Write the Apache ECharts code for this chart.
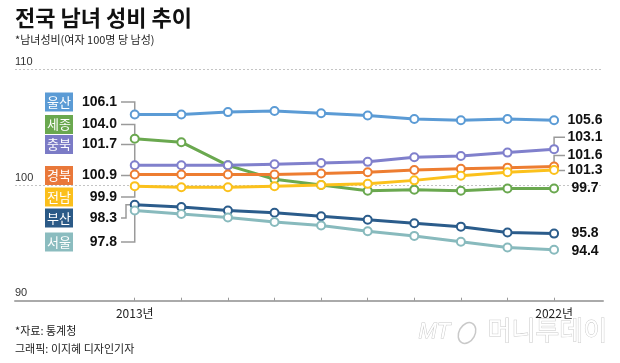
<!DOCTYPE html>
<html><head><meta charset="utf-8">
<script src="https://cdn.jsdelivr.net/npm/echarts@6/dist/echarts.min.js"></script>
<style>html,body{margin:0;padding:0;background:#fff}#c{width:620px;height:363px}</style>
</head><body><div id="c"></div>
<script>
// ---- data ----
const years = [2013, 2014, 2015, 2016, 2017, 2018, 2019, 2020, 2021, 2022];
const regions = ['울산', '세종', '충북', '경북', '전남', '부산', '서울'];
const ulsan    = [106.1, 106.1, 106.3, 106.4, 106.2, 106.0, 105.7, 105.6, 105.7, 105.6];
const sejong   = [104.0, 103.7, 101.7, 100.5, 100.0, 99.5, 99.6, 99.5, 99.7, 99.7];
const chungbuk = [101.7, 101.7, 101.7, 101.8, 101.9, 102.0, 102.4, 102.5, 102.8, 103.1];
const gyeongbuk= [100.9, 100.9, 100.9, 100.9, 101.0, 101.1, 101.3, 101.4, 101.5, 101.6];
const jeonnam  = [99.9, 99.8, 99.8, 99.9, 100.0, 100.1, 100.4, 100.8, 101.1, 101.3];
const busan    = [98.3, 98.1, 97.8, 97.6, 97.3, 97.0, 96.7, 96.4, 95.9, 95.8];
const seoul    = [97.8, 97.5, 97.2, 96.8, 96.5, 96.0, 95.6, 95.1, 94.6, 94.4];
const yTicks = [90, 100, 110];
const xLabelYears = [2013, 2022];
const title = '전국 남녀 성비 추이';
const subtitle = '*남녀성비(여자 100명 당 남성)';
const source = '*자료: 통계청';
const credit = '그래픽: 이지혜 디자인기자';

// ---- styles ----
const seriesValues = [ulsan, sejong, chungbuk, gyeongbuk, jeonnam, busan, seoul];
const colors = ['#5b9bd5', '#6aa84f', '#8080cc', '#ed7d31', '#fbc11c', '#2b5c8b', '#88babd'];
const boxColors = ['#5b9bd5', '#6aa84f', '#7b7bc6', '#e9783a', '#fbbf1c', '#2b5a87', '#8bbcbf'];
const leftLabelY = [102, 124.5, 144.5, 175.5, 197, 218, 242];
const rightLabelDY = [0, 0, -12, -11, 0.5, 0, 1.5]; // offset of right label from last point
const rightLeader = [false, false, true, true, true, false, false];

const chart = echarts.init(document.getElementById('c'), null, {renderer: 'canvas'});
const KR = '"Noto Sans CJK KR", "Noto Sans", sans-serif';
const NUM = '"Liberation Sans", Arial, sans-serif';

chart.setOption({
  animation: false,
  backgroundColor: '#fff',
  grid: {left: 15, right: 17, top: 69.3, bottom: 62.3},
  xAxis: {
    type: 'value', min: 2010.43, max: 2023.05,
    axisLine: {show: true, onZero: false, lineStyle: {color: '#aaaaaa', width: 2}},
    axisTick: {show: true, inside: true, length: 3, customValues: years, lineStyle: {color: '#999', width: 1}},
    axisLabel: {customValues: xLabelYears, formatter: v => v + '년', color: '#222', fontFamily: KR, fontSize: 12, margin: 7},
    splitLine: {show: false}
  },
  yAxis: {
    type: 'value', min: 90, max: 110, interval: 10,
    axisLine: {show: false}, axisTick: {show: false},
    axisLabel: {inside: true, align: 'left', verticalAlign: 'bottom', margin: 0, padding: [0, 0, 2, 0],
      color: '#333', fontFamily: NUM, fontSize: 11},
    splitLine: {show: true, lineStyle: {color: '#c4c4c4', type: [2, 2], width: 1}}
  },
  series: regions.map((r, i) => ({
    name: r, type: 'line',
    data: years.map((y, k) => [y, seriesValues[i][k]]),
    symbol: 'emptyCircle', symbolSize: 8,
    lineStyle: {color: colors[i], width: 3},
    itemStyle: {color: colors[i], borderColor: colors[i], borderWidth: 1.3},
    z: 3
  }))
});

// ---- annotations computed from library coordinates ----
const g = [];
g.push({type: 'text', left: 15, top: 7, style: {text: title, font: 'bold 22px ' + KR, fill: '#111'}});
g.push({type: 'text', left: 15, top: 34, style: {text: subtitle, font: '11px ' + KR, fill: '#222'}});
g.push({type: 'text', left: 15, top: 325, style: {text: source, font: '11px ' + KR, fill: '#222'}});
g.push({type: 'text', left: 15, top: 343, style: {text: credit, font: '11px ' + KR, fill: '#222'}});
// watermark
g.push({type: 'text', left: 418, top: 320, style: {text: 'MT', font: 'italic 22px ' + NUM, fill: '#fff', stroke: '#c9c9c9', lineWidth: 1}});
g.push({type: 'ellipse', shape: {cx: 467, cy: 333, rx: 8, ry: 11}, rotation: -0.5, originX: 467, originY: 333,
  style: {fill: 'none', stroke: '#c9c9c9', lineWidth: 1.5}});
g.push({type: 'text', left: 487, top: 317, style: {text: '머니투데이', font: '26px ' + KR, fill: '#fff', stroke: '#c9c9c9', lineWidth: 1}});

regions.forEach((r, i) => {
  const vals = seriesValues[i];
  const p0 = chart.convertToPixel({gridIndex: 0}, [years[0], vals[0]]);
  const pN = chart.convertToPixel({gridIndex: 0}, [years[years.length - 1], vals[vals.length - 1]]);
  const ly = leftLabelY[i];
  // box
  g.push({type: 'rect', shape: {x: 45, y: ly - 9.5, width: 28, height: 19}, style: {fill: boxColors[i]}});
  g.push({type: 'text', x: 59, y: ly, style: {text: r, font: '13px ' + KR, fill: '#fff', align: 'center', verticalAlign: 'middle'}});
  g.push({type: 'text', x: 117, y: ly, style: {text: vals[0].toFixed(1), font: 'bold 14px ' + NUM, fill: '#111', align: 'right', verticalAlign: 'middle'}});
  // leader
  let pts;
  if (r === '부산') {
    pts = [[121, ly], [126, ly], [126, p0[1]], [p0[0], p0[1]]];
  } else {
    pts = [[121, ly], [p0[0], ly], [p0[0], p0[1]]];
  }
  g.push({type: 'polyline', shape: {points: pts}, style: {stroke: '#9a9a9a', lineWidth: 1.5, fill: 'none'}, z: 1});
  // right label
  const ry = pN[1] + rightLabelDY[i];
  g.push({type: 'text', x: 585, y: ry, style: {text: vals[vals.length - 1].toFixed(1), font: 'bold 14px ' + NUM, fill: '#111', align: 'center', verticalAlign: 'middle'}});
  if (rightLeader[i]) {
    g.push({type: 'polyline', shape: {points: [[pN[0], pN[1]], [pN[0], ry], [565, ry]]}, style: {stroke: '#9a9a9a', lineWidth: 1.5, fill: 'none'}, z: 1});
  }
});
chart.setOption({graphic: g});
</script>
</body></html>
